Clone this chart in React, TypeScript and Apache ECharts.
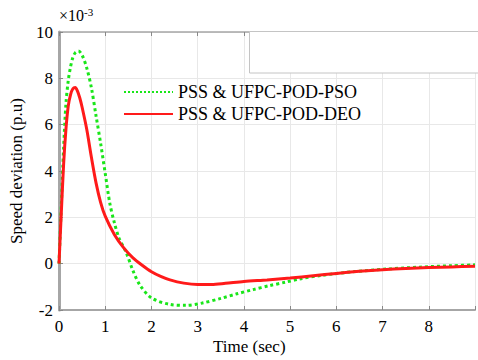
import React, { useEffect, useRef } from "react";
import * as echarts from "echarts";

const psoT = [0, 0.05, 0.1, 0.15, 0.2, 0.25, 0.3, 0.35, 0.42, 0.5, 0.6, 0.7, 0.8, 0.9, 1.0, 1.1, 1.2, 1.3, 1.45, 1.6, 1.75, 2.0, 2.4, 2.75, 3.1, 3.5, 3.85, 4.2, 4.55, 4.9, 5.2, 5.7, 6.4, 7.1, 7.8, 8.5, 9.0];
const psoV = [0, 2.5, 5.0, 6.9, 7.9, 8.5, 8.9, 9.1, 9.18, 9.0, 8.45, 7.6, 6.4, 5.2, 3.9, 2.6, 1.75, 1.1, 0.5, -0.3, -0.92, -1.48, -1.76, -1.8, -1.7, -1.5, -1.3, -1.12, -0.95, -0.8, -0.66, -0.5, -0.34, -0.23, -0.15, -0.09, -0.05];

const deoT = [0, 0.05, 0.1, 0.15, 0.2, 0.25, 0.3, 0.35, 0.4, 0.45, 0.5, 0.6, 0.7, 0.8, 0.9, 1.0, 1.2, 1.4, 1.6, 1.8, 2.0, 2.2, 2.4, 2.7, 3.0, 3.3, 3.6, 4.0, 4.5, 5.0, 5.5, 6.0, 6.5, 7.0, 7.5, 8.0, 8.5, 9.0];
const deoV = [0, 2.2, 4.3, 5.8, 6.8, 7.3, 7.55, 7.6, 7.45, 7.15, 6.75, 5.8, 4.6, 3.5, 2.65, 2.05, 1.25, 0.68, 0.25, -0.07, -0.35, -0.55, -0.7, -0.84, -0.9, -0.9, -0.85, -0.77, -0.7, -0.62, -0.52, -0.42, -0.33, -0.26, -0.21, -0.17, -0.14, -0.11];

const seriesNames = ["PSS & UFPC-POD-PSO", "PSS & UFPC-POD-DEO"];
const xTickLabels = [0, 1, 2, 3, 4, 5, 6, 7, 8];
const yTickLabels = [-2, 0, 2, 4, 6, 8, 10];

const FONT = "Liberation Serif";

export default function App() {
  const ref = useRef<HTMLDivElement>(null);
  useEffect(() => {
    if (!ref.current) return;
    const chart = echarts.init(ref.current, null, { renderer: "svg" });
    const axisGray = "#a6a6a6";
    chart.setOption({
      animation: false,
      backgroundColor: "#ffffff",
      textStyle: { fontFamily: FONT, color: "#000" },
      title: {
        text: "×10{sup|-3}",
        left: 54,
        top: 1,
        textStyle: {
          fontFamily: FONT,
          fontSize: 16,
          fontWeight: "normal",
          color: "#000",
          rich: { sup: { fontFamily: FONT, fontSize: 11, verticalAlign: "top", padding: [0, 0, 8, 0], color: "#000" } },
        },
      },
      grid: { left: 59, right: 1, top: 32, bottom: 50, show: false },
      legend: {
        left: 123,
        top: 83,
        padding: 0,
        orient: "vertical",
        itemWidth: 49,
        itemHeight: 14,
        itemGap: 4,
        itemStyle: { opacity: 0 },
        textStyle: { fontFamily: FONT, fontSize: 18, color: "#000" },
        data: seriesNames,
      },
      xAxis: [
        {
          type: "value",
          min: 0,
          max: 9,
          interval: 1,
          axisLine: { show: true, onZero: false, lineStyle: { color: axisGray, width: 2 } },
          axisTick: { show: true, inside: true, length: 4, lineStyle: { color: "#888" } },
          splitLine: { show: true, lineStyle: { color: "#e8e8e8", width: 1 } },
          axisLabel: {
            fontFamily: FONT,
            fontSize: 17,
            color: "#000",
            margin: 8,
            formatter: (v: number) => (xTickLabels.includes(v) ? String(v) : ""),
          },
        },
        {
          type: "value",
          position: "top",
          min: 0,
          max: 9,
          interval: 1,
          axisLine: { show: true, onZero: false, lineStyle: { color: axisGray, width: 1.5 } },
          axisTick: { show: true, inside: true, length: 4, lineStyle: { color: "#888" } },
          splitLine: { show: false },
          axisLabel: { show: false },
        },
      ],
      yAxis: {
        type: "value",
        min: -2,
        max: 10,
        interval: 2,
        name: "Speed deviation (p.u)",
        nameLocation: "middle",
        nameGap: 30,
        nameTextStyle: { fontFamily: FONT, fontSize: 17, color: "#000" },
        axisLine: { show: true, onZero: false, lineStyle: { color: axisGray, width: 3 } },
        axisTick: { show: true, inside: true, length: 4, lineStyle: { color: "#888" } },
        splitLine: { show: true, lineStyle: { color: "#e8e8e8", width: 1 } },
        axisLabel: {
          fontFamily: FONT,
          fontSize: 17,
          color: "#000",
          margin: 6,
          formatter: (v: number) => (yTickLabels.includes(v) ? String(v) : ""),
        },
      },
      graphic: [
        {
          type: "rect",
          shape: { x: 249.5, y: 31.5, width: 240, height: 41.5 },
          style: { fill: "#ffffff", stroke: "#c4c4c4", lineWidth: 1 },
          z: 100,
        },
        {
          type: "text",
          left: 213,
          top: 338,
          style: { text: "Time (sec)", fontFamily: FONT, fontSize: 17, fill: "#000" },
        },
      ],
      series: [
        {
          name: seriesNames[0],
          type: "line",
          symbol: "none",
          showSymbol: false,
          smooth: 0.3,
          lineStyle: { color: "#19e619", width: 3, type: "dotted" },
          itemStyle: { color: "#19e619" },
          data: psoT.map((t, i) => [t, psoV[i]]),
          z: 3,
        },
        {
          name: seriesNames[1],
          type: "line",
          symbol: "none",
          showSymbol: false,
          smooth: 0.3,
          lineStyle: { color: "#ff1a1a", width: 3 },
          itemStyle: { color: "#ff1a1a" },
          data: deoT.map((t, i) => [t, deoV[i]]),
          z: 4,
        },
      ],
    });
    return () => chart.dispose();
  }, []);
  return <div ref={ref} style={{ width: 478, height: 360, position: "fixed", left: 0, top: 0 }} />;
}
